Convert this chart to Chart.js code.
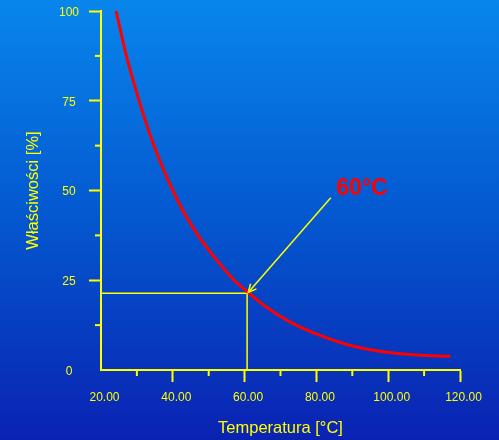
<!DOCTYPE html>
<html>
<head>
<meta charset="utf-8">
<script src="https://cdn.jsdelivr.net/npm/chart.js@4"></script>
<style>
  html, body {
    margin: 0;
    padding: 0;
  }
  body {
    width: 499px;
    height: 440px;
    background: linear-gradient(to bottom, #0886ec 0%, #0457cf 50%, #0a22b2 100%);
    overflow: hidden;
  }
</style>
</head>
<body>
<canvas id="myChart" width="499" height="440"></canvas>
<script>
// curve
const temperatura = [24.2, 27.2, 30.5, 34.2, 38.4, 42.5, 46.7, 51.3, 56.9, 61.0, 66.2, 72.6, 80.1, 89.3, 98.6, 107.9, 117.3];
const wlasciwosci = [100, 87.0, 75.4, 64.0, 53.5, 45.0, 38.0, 31.8, 25.2, 21.6, 17.4, 13.4, 10.0, 6.9, 5.1, 4.2, 3.8];

// marked point at 60 C
const punktX = [20, 60.7, 60.7];
const punktY = [21.4, 21.4, 0];

// arrow from the label to the curve
const strzalkaX = [84.0, 61.0];
const strzalkaY = [48.0, 21.6];
const etykieta = "60°C";
const etykietaX = 92.7;
const etykietaY = 50.4;

// axis ticks
const xMin = 20, xMax = 120, xStep = 10, xLabelStep = 20;
const yMin = 0, yMax = 100, yStep = 12.5, yLabelStep = 25;

const yellow = "#ffff00";
const red = "#ff0000";

Chart.defaults.font.family = "'Liberation Sans', Arial, sans-serif";
Chart.defaults.color = yellow;

function isMajor(value, step) {
  return Math.abs(value % step) < 1e-6;
}

// minor tick marks, the arrow head and the red label
const extras = {
  id: "extras",
  afterDraw(chart) {
    const ctx = chart.ctx;
    const xs = chart.scales.x;
    const ys = chart.scales.y;
    ctx.save();
    ctx.strokeStyle = yellow;
    ctx.lineWidth = 2;
    // minor ticks
    for (let v = xMin + xStep; v < xMax; v += xStep) {
      if (isMajor(v, xLabelStep)) continue;
      const px = xs.getPixelForValue(v);
      ctx.beginPath();
      ctx.moveTo(px, ys.bottom);
      ctx.lineTo(px, ys.bottom + 6);
      ctx.stroke();
    }
    for (let v = yMin + yStep; v < yMax; v += yStep) {
      if (isMajor(v, yLabelStep)) continue;
      const py = ys.getPixelForValue(v);
      ctx.beginPath();
      ctx.moveTo(xs.left - 6, py);
      ctx.lineTo(xs.left, py);
      ctx.stroke();
    }
    // arrow head
    const x1 = xs.getPixelForValue(strzalkaX[0]);
    const y1 = ys.getPixelForValue(strzalkaY[0]);
    const x2 = xs.getPixelForValue(strzalkaX[1]);
    const y2 = ys.getPixelForValue(strzalkaY[1]);
    const ang = Math.atan2(y2 - y1, x2 - x1);
    const len = 9;
    ctx.lineWidth = 1.5;
    ctx.beginPath();
    ctx.moveTo(x2 - len * Math.cos(ang - 0.45), y2 - len * Math.sin(ang - 0.45));
    ctx.lineTo(x2, y2);
    ctx.lineTo(x2 - len * Math.cos(ang + 0.45), y2 - len * Math.sin(ang + 0.45));
    ctx.stroke();
    // label
    ctx.fillStyle = red;
    ctx.font = "bold 23px 'Liberation Sans', Arial, sans-serif";
    ctx.textAlign = "center";
    ctx.textBaseline = "middle";
    ctx.fillText(etykieta, xs.getPixelForValue(etykietaX), ys.getPixelForValue(etykietaY));
    ctx.restore();
  },
};

const chartCtx = document.getElementById("myChart");
new Chart(chartCtx, {
  type: "line",
  data: {
    datasets: [
      {
        label: "Właściwości",
        data: temperatura.map((t, i) => ({ x: t, y: wlasciwosci[i] })),
        borderColor: red,
        borderWidth: 3,
        pointRadius: 0,
        cubicInterpolationMode: "monotone",
      },
      {
        label: "60 C",
        data: punktX.map((t, i) => ({ x: t, y: punktY[i] })),
        borderColor: yellow,
        borderWidth: 1.5,
        pointRadius: 0,
        tension: 0,
      },
      {
        label: "strzalka",
        data: strzalkaX.map((t, i) => ({ x: t, y: strzalkaY[i] })),
        borderColor: yellow,
        borderWidth: 1.5,
        pointRadius: 0,
        tension: 0,
      },
    ],
  },
  options: {
    responsive: false,
    animation: false,
    events: [],
    layout: {
      padding: { top: 11, right: 39, left: 0, bottom: 0 },
    },
    plugins: {
      legend: { display: false },
      tooltip: { enabled: false },
    },
    scales: {
      x: {
        type: "linear",
        min: xMin,
        max: xMax,
        afterFit(scale) {
          scale.height = 70;
          scale.paddingLeft = 0;
          scale.paddingRight = 0;
        },
        border: { display: true, color: yellow, width: 2 },
        grid: {
          drawOnChartArea: false,
          tickLength: 12,
          tickWidth: 2,
          tickColor: (c) =>
            c.tick && c.tick.value > xMin && isMajor(c.tick.value, xLabelStep) ? yellow : "rgba(0,0,0,0)",
        },
        ticks: {
          stepSize: xStep,
          autoSkip: false,
          maxRotation: 0,
          padding: 8,
          labelOffset: 3.5,
          color: yellow,
          font: { size: 12 },
          callback: (v) => (isMajor(v, xLabelStep) ? v.toFixed(2) : ""),
        },
        title: {
          display: true,
          text: "Temperatura [°C]",
          color: yellow,
          font: { size: 16.5 },
          padding: { top: 0, bottom: 2 },
        },
      },
      y: {
        min: yMin,
        max: yMax,
        afterFit(scale) {
          scale.width = 101;
          scale.paddingTop = 0;
          scale.paddingBottom = 0;
        },
        border: { display: true, color: yellow, width: 2 },
        grid: {
          drawOnChartArea: false,
          tickLength: 12,
          tickWidth: 2,
          tickColor: (c) =>
            c.tick && c.tick.value > yMin && isMajor(c.tick.value, yLabelStep) ? yellow : "rgba(0,0,0,0)",
        },
        ticks: {
          stepSize: yStep,
          autoSkip: false,
          padding: 10,
          labelOffset: 1.5,
          crossAlign: "center",
          color: yellow,
          font: { size: 12 },
          callback: (v) => (isMajor(v, yLabelStep) ? v : ""),
        },
        title: {
          display: true,
          text: "Właściwości [%]",
          color: yellow,
          font: { size: 16.5 },
          padding: { top: 24, bottom: 0 },
        },
      },
    },
  },
  plugins: [extras],
});
</script>
</body>
</html>
